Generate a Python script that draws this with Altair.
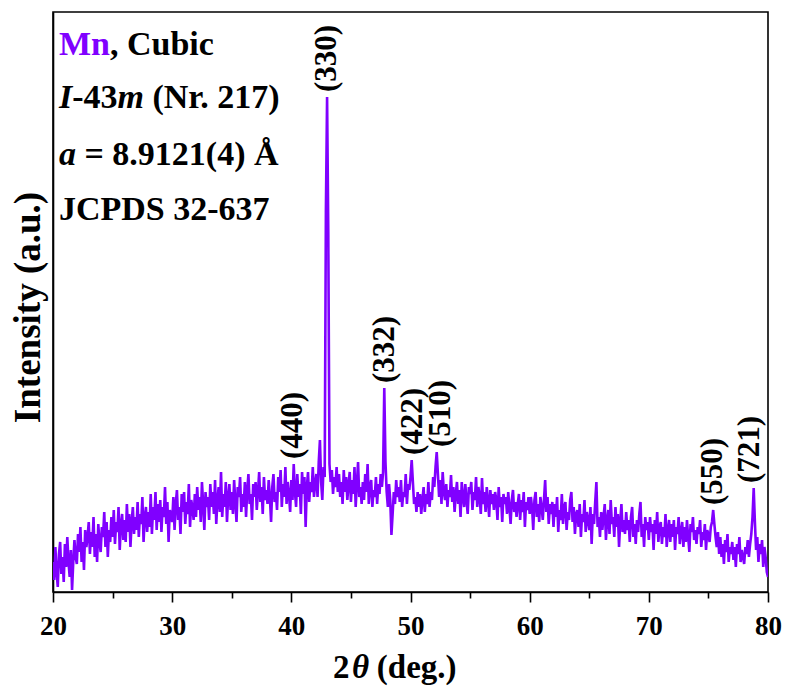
import altair as alt
import pandas as pd

# ---- XRD scan: 2θ from 20° to 80° in 0.1° steps ----
SCAN_START = 20.0
SCAN_STEP = 0.1

# intensity (a.u.), one row per degree: values at x.0, x.1, ..., x.9
intensity_rows = [
    [30, 12, 45, 20, 5, 38, 50, 18, 35, 10],              # 20
    [48, 25, 55, 30, 15, 42, 2, 30, 52, 35],              # 21
    [28, 58, 40, 65, 30, 50, 22, 62, 45, 55],             # 22
    [70, 38, 60, 45, 75, 35, 58, 30, 68, 50],             # 23
    [40, 65, 55, 80, 45, 70, 35, 62, 50, 75],             # 24
    [55, 82, 48, 70, 60, 85, 42, 68, 78, 52],             # 25
    [72, 50, 88, 60, 78, 45, 70, 85, 58, 75],             # 26
    [62, 90, 55, 78, 68, 95, 50, 75, 85, 60],             # 27
    [80, 65, 98, 58, 85, 72, 100, 62, 88, 70],            # 28
    [92, 60, 85, 75, 105, 68, 90, 50, 82, 78],            # 29
    [70, 95, 62, 88, 102, 72, 85, 58, 98, 80],            # 30
    [100, 68, 90, 78, 108, 65, 92, 85, 72, 98],           # 31
    [75, 105, 82, 95, 70, 110, 88, 62, 100, 85],          # 32
    [95, 72, 108, 85, 100, 78, 112, 68, 92, 105],         # 33
    [80, 120, 75, 98, 85, 110, 70, 95, 108, 82],          # 34
    [100, 78, 112, 90, 70, 105, 95, 115, 80, 98],         # 35
    [85, 110, 75, 102, 118, 88, 98, 72, 108, 95],         # 36
    [110, 82, 100, 120, 90, 105, 78, 115, 92, 102],       # 37
    [88, 112, 95, 70, 105, 118, 90, 100, 82, 115],        # 38
    [100, 122, 85, 108, 95, 125, 88, 110, 98, 80],        # 39
    [112, 92, 128, 100, 85, 118, 95, 108, 78, 120],       # 40
    [98, 115, 65, 105, 120, 90, 110, 100, 125, 95],       # 41
    [108, 118, 95, 130, 152, 110, 92, 125, 115, 380],     # 42
    [495, 360, 128, 110, 122, 98, 115, 105, 125, 100],    # 43
    [118, 95, 110, 88, 122, 100, 115, 92, 108, 120],      # 44
    [90, 112, 98, 125, 85, 108, 130, 95, 105, 88],        # 45
    [110, 92, 118, 100, 128, 88, 105, 112, 85, 102],      # 46
    [95, 115, 88, 108, 98, 118, 105, 120, 204, 130],      # 47
    [100, 85, 108, 92, 57, 78, 100, 88, 112, 95],         # 48
    [105, 90, 112, 85, 100, 95, 118, 88, 108, 102],       # 49
    [115, 132, 110, 88, 95, 80, 100, 85, 98, 78],         # 50
    [92, 105, 80, 98, 88, 110, 85, 100, 92, 115],         # 51
    [105, 125, 140, 118, 95, 112, 88, 120, 100, 92],      # 52
    [108, 85, 102, 95, 117, 90, 105, 80, 98, 110],        # 53
    [88, 102, 75, 110, 95, 85, 108, 92, 78, 105],         # 54
    [98, 110, 82, 100, 92, 115, 85, 105, 95, 78],         # 55
    [114, 88, 100, 80, 105, 92, 75, 102, 88, 98],         # 56
    [82, 100, 92, 72, 105, 85, 95, 70, 98, 88],           # 57
    [95, 78, 100, 85, 68, 92, 102, 80, 90, 75],           # 58
    [88, 98, 72, 92, 80, 100, 65, 90, 82, 95],            # 59
    [78, 95, 85, 62, 92, 100, 75, 88, 70, 95],            # 60
    [85, 72, 92, 112, 80, 95, 68, 88, 78, 90],            # 61
    [65, 88, 75, 95, 60, 82, 72, 98, 68, 85],             # 62
    [90, 62, 80, 72, 92, 100, 70, 85, 58, 78],            # 63
    [82, 65, 88, 55, 78, 70, 92, 60, 80, 72],             # 64
    [62, 85, 48, 78, 68, 90, 110, 65, 75, 55],            # 65
    [80, 62, 75, 88, 52, 72, 82, 58, 92, 68],             # 66
    [75, 55, 85, 65, 78, 45, 70, 88, 60, 72],             # 67
    [58, 80, 62, 72, 50, 75, 85, 55, 68, 48],             # 68
    [72, 60, 78, 90, 55, 68, 45, 75, 62, 70],             # 69
    [52, 75, 60, 68, 42, 72, 58, 80, 50, 65],             # 70
    [70, 48, 65, 55, 78, 45, 62, 72, 50, 68],             # 71
    [55, 72, 42, 65, 58, 75, 48, 60, 70, 45],             # 72
    [65, 50, 72, 55, 40, 68, 60, 75, 52, 62],             # 73
    [48, 65, 58, 72, 45, 60, 52, 68, 42, 62],             # 74
    [58, 50, 65, 70, 82, 68, 55, 45, 60, 38],             # 75
    [55, 35, 48, 28, 52, 40, 58, 30, 45, 38],             # 76
    [50, 32, 45, 25, 48, 38, 55, 30, 42, 35],             # 77
    [28, 45, 38, 52, 35, 48, 58, 75, 104, 70],            # 78
    [42, 55, 30, 48, 38, 52, 25, 45, 35, 20],             # 79
    [15],                                                 # 80
]

# indexed reflections (hkl) and their 2θ positions
peak_hkl = ["(440)", "(330)", "(332)", "(422)", "(510)", "(550)", "(721)"]
peak_two_theta = [40.1, 43.0, 47.85, 50.2, 52.6, 75.4, 78.45]

# phase information block: text, line (intensity level), offset in em, italic, colour
PURPLE = "#8000ff"
BLACK = "#000000"
info_text = ["Mn", ", Cubic", "I", "-43", "m", "(Nr. 217)", "a", "= 8.9121(4) Å", "JCPDS 32-637"]
info_level = [537, 537, 484, 484, 484, 484, 427, 427, 372]
info_em = [0.0, 1.5, 0.0, 0.389, 1.722, 2.75, 0.0, 0.75, 0.0]
info_italic = [False, False, True, False, True, False, True, False, False]
info_color = [PURPLE, BLACK, BLACK, BLACK, BLACK, BLACK, BLACK, BLACK, BLACK]

# x-axis title pieces: "2", italic θ, "(deg.)"
xtitle_text = ["2", "θ", "(deg.)"]
xtitle_em = [0.0, 0.58, 1.33]
xtitle_italic = [False, True, False]

X_DOMAIN = [20, 80]
Y_DOMAIN = [0, 580]
PLOT_W, PLOT_H = 715, 580
FONT = "Liberation Serif"

# ---- tables ----
values = [v for row in intensity_rows for v in row]
scan = pd.DataFrame({
    "two_theta": [round(SCAN_START + SCAN_STEP * i, 2) for i in range(len(values))],
    "intensity": values,
})

px_per_deg = PLOT_W / (X_DOMAIN[1] - X_DOMAIN[0])

# label each reflection just above the strongest point near it
peak_top = []
for pos in peak_two_theta:
    near = scan[(scan.two_theta - pos).abs() <= 0.455]
    peak_top.append(near.intensity.max() + 5)
peaks = pd.DataFrame({"hkl": peak_hkl, "two_theta": peak_two_theta, "level": peak_top})

INFO_SIZE = 34
info = pd.DataFrame({
    "text": info_text,
    "two_theta": [20.5 + e * INFO_SIZE / px_per_deg for e in info_em],
    "level": info_level,
    "italic": info_italic,
    "color": info_color,
})

XT_SIZE = 33
xtitle = pd.DataFrame({
    "text": xtitle_text,
    "two_theta": [43.49 + e * XT_SIZE / px_per_deg for e in xtitle_em],
    "level": [-86] * 3,
    "italic": xtitle_italic,
})

x_scale = alt.Scale(domain=X_DOMAIN, nice=False, zero=False)
y_scale = alt.Scale(domain=Y_DOMAIN, nice=False, zero=False)

x_axis = alt.Axis(
    values=list(range(20, 81, 5)),
    labelExpr="datum.value % 10 == 0 ? datum.label : ''",
    tickSize={"condition": {"test": "datum.value % 10 == 0", "value": 10}, "value": 6},
    labelOverlap=False, labelFlush=False,
    labelFont=FONT, labelFontSize=27, labelFontWeight="bold", labelColor=BLACK,
    labelPadding=11, title=None, grid=False,
)
y_axis = alt.Axis(
    ticks=False, labels=False, grid=False,
    title="Intensity (a.u.)", titleFont=FONT, titleFontSize=37,
    titleFontWeight="bold", titleColor=BLACK, titlePadding=6, titleY=295,
)

line = alt.Chart(scan).mark_line(color=PURPLE, strokeWidth=2.6, clip=True).encode(
    x=alt.X("two_theta:Q", scale=x_scale, axis=x_axis),
    y=alt.Y("intensity:Q", scale=y_scale, axis=y_axis),
)

peak_labels = alt.Chart(peaks).mark_text(
    angle=270, align="left", baseline="middle",
    font=FONT, fontSize=31, fontWeight="bold", color=BLACK,
).encode(
    x=alt.X("two_theta:Q", scale=x_scale),
    y=alt.Y("level:Q", scale=y_scale),
    text="hkl:N",
)


def text_layer(df, italic, size):
    return alt.Chart(df).transform_filter(
        alt.datum.italic == italic
    ).mark_text(
        align="left", baseline="alphabetic", font=FONT, fontSize=size,
        fontWeight="bold", fontStyle="italic" if italic else "normal",
    )


info_up = text_layer(info, False, INFO_SIZE).encode(
    x=alt.X("two_theta:Q", scale=x_scale),
    y=alt.Y("level:Q", scale=y_scale),
    text="text:N",
    color=alt.Color("color:N", scale=None),
)
info_it = text_layer(info, True, INFO_SIZE).encode(
    x=alt.X("two_theta:Q", scale=x_scale),
    y=alt.Y("level:Q", scale=y_scale),
    text="text:N",
    color=alt.Color("color:N", scale=None),
)
xt_up = text_layer(xtitle, False, XT_SIZE).encode(
    x=alt.X("two_theta:Q", scale=x_scale),
    y=alt.Y("level:Q", scale=y_scale),
    text="text:N",
    color=alt.value(BLACK),
)
xt_it = text_layer(xtitle, True, XT_SIZE).encode(
    x=alt.X("two_theta:Q", scale=x_scale),
    y=alt.Y("level:Q", scale=y_scale),
    text="text:N",
    color=alt.value(BLACK),
)

chart = alt.layer(line, peak_labels, info_up, info_it, xt_up, xt_it).properties(
    width=PLOT_W, height=PLOT_H,
    autosize=alt.AutoSizeParams(type="none"),
    padding={"left": 53, "top": 12, "right": 18, "bottom": 94},
    background="white",
).configure_view(
    stroke=BLACK, strokeWidth=1.6,
).configure_axis(
    domainColor=BLACK, domainWidth=1.6, tickColor=BLACK, tickWidth=1.6,
)

chart.save("out.html", embed_options={"renderer": "svg", "actions": False})
